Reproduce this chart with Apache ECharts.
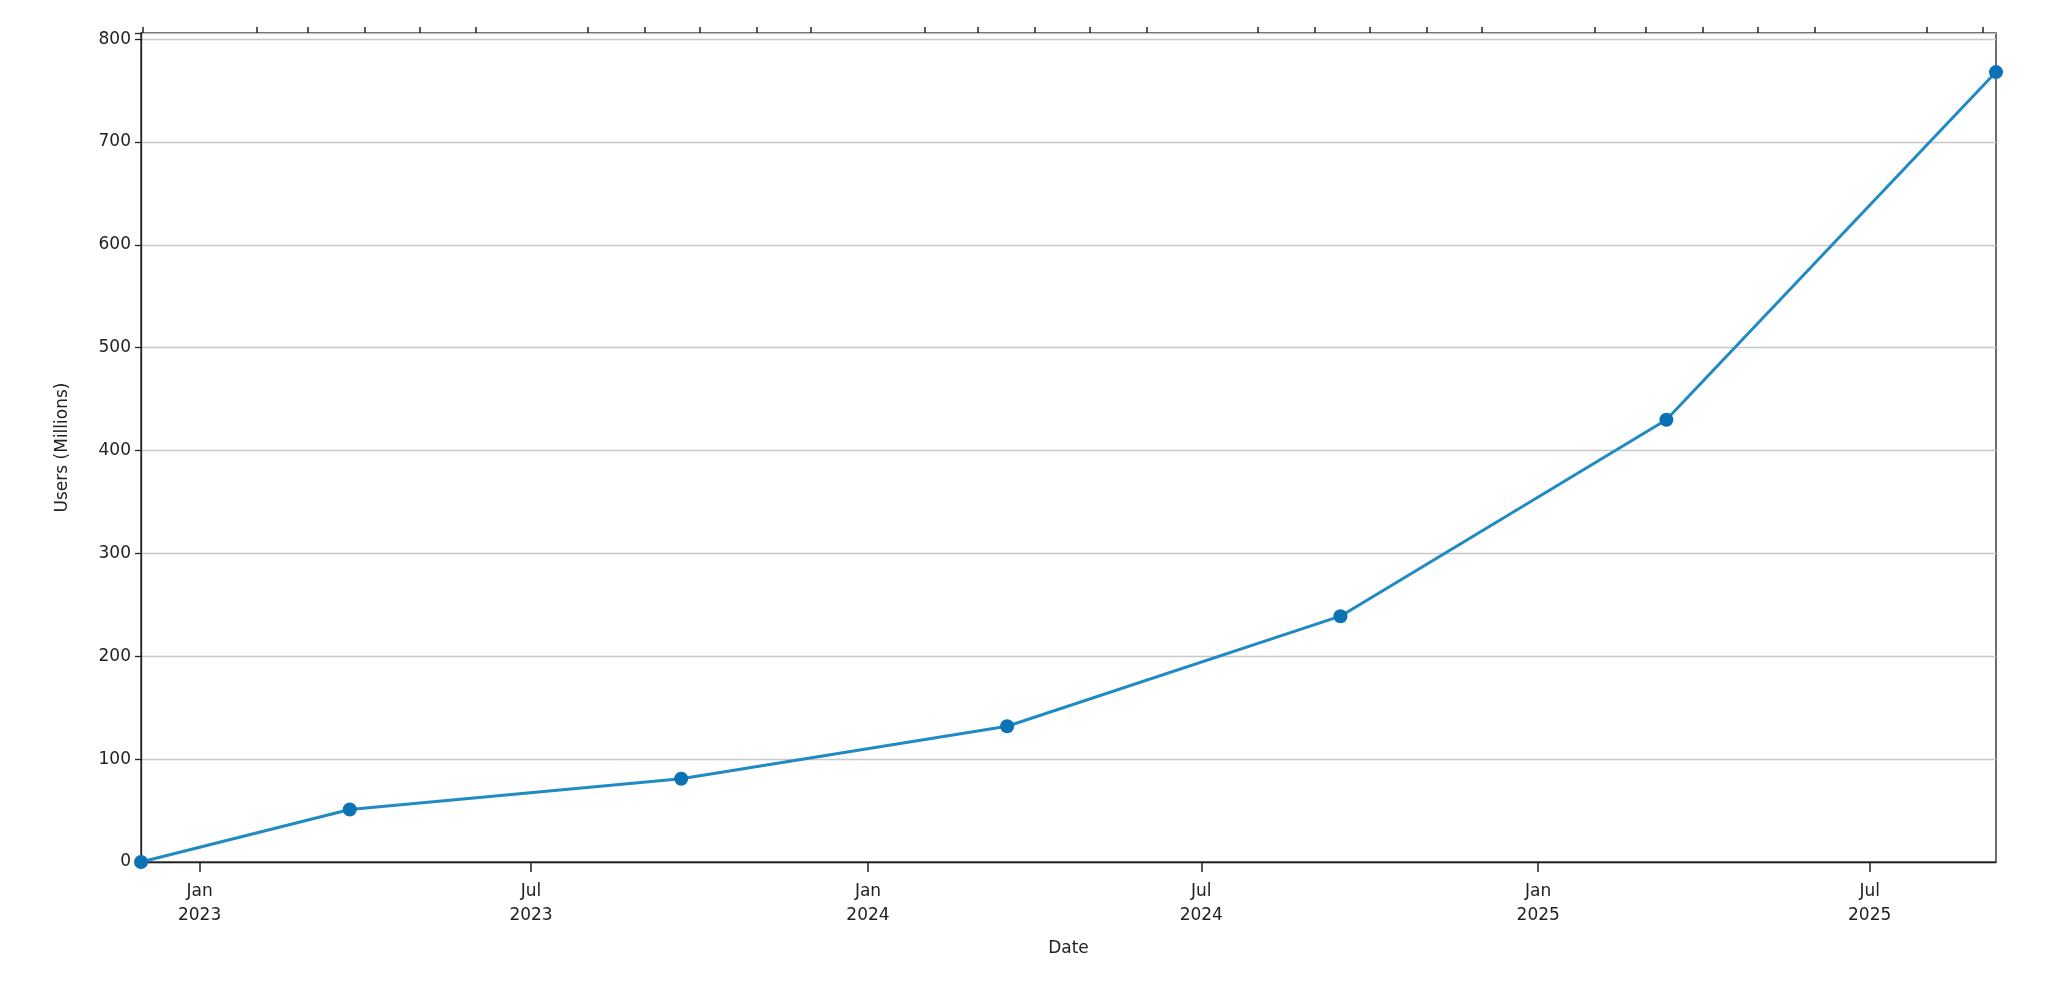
<!DOCTYPE html>
<html><head><meta charset="utf-8">
<script src="https://cdn.jsdelivr.net/npm/echarts@6/dist/echarts.min.js"></script>
<style>html,body{margin:0;padding:0;background:#fff}#c{width:2048px;height:993px}</style>
</head><body><div id="c"></div>
<script>
const dates = ['2022-11-30','2023-03-24','2023-09-21','2024-03-17','2024-09-15','2025-03-12','2025-09-08'];
const users = [0, 51, 81, 132, 239, 430, 768];
const majorTicks = ['2023-01-01','2023-07-01','2024-01-01','2024-07-01','2025-01-01','2025-07-01'];
const minorTicks = ['2022-12-01','2023-02-01','2023-03-01','2023-04-01','2023-05-01','2023-06-01','2023-08-01','2023-09-01','2023-10-01','2023-11-01','2023-12-01','2024-02-01','2024-03-01','2024-04-01','2024-05-01','2024-06-01','2024-08-01','2024-09-01','2024-10-01','2024-11-01','2024-12-01','2025-02-01','2025-03-01','2025-04-01','2025-05-01','2025-06-01','2025-08-01','2025-09-01'];
const months = ['Jan','Feb','Mar','Apr','May','Jun','Jul','Aug','Sep','Oct','Nov','Dec'];
const t = s => new Date(s + 'T00:00:00Z').getTime();
const xmin = t(dates[0]), xmax = t(dates[dates.length-1]);
const font = 'DejaVu Sans';
const chart = echarts.init(document.getElementById('c'));
const common = {type:'value', min:xmin, max:xmax, splitLine:{show:false}};
chart.setOption({
  animation:false,
  grid:{left:141,right:52,top:33,bottom:131,show:true,borderColor:'#222',borderWidth:1.3},
  xAxis:[
    Object.assign({}, common, {
      name:'Date', nameLocation:'middle', nameGap:78,
      nameTextStyle:{fontFamily:font,fontSize:17,color:'#222'},
      axisLine:{show:true,lineStyle:{color:'#222',width:1.3}},
      axisTick:{show:true,length:10,lineStyle:{color:'#222',width:1.5},customValues:majorTicks.map(t)},
      axisLabel:{show:true,customValues:majorTicks.map(t),margin:18,lineHeight:24,
        fontFamily:font,fontSize:17,color:'#222',
        formatter:v=>{const d=new Date(v);return months[d.getUTCMonth()]+'\n'+d.getUTCFullYear();}}
    }),
    Object.assign({}, common, {
      axisLine:{show:false},
      axisTick:{show:true,length:6,lineStyle:{color:'#222',width:1.5},customValues:minorTicks.map(t)},
      axisLabel:{show:false}
    })
  ],
  yAxis:{type:'value',min:0,max:806,interval:100,
    name:'Users (Millions)',nameLocation:'middle',nameGap:70,
    nameTextStyle:{fontFamily:font,fontSize:17,color:'#222'},
    axisLine:{show:true,lineStyle:{color:'#222',width:1.3}},
    axisTick:{show:true,length:6,lineStyle:{color:'#222',width:1.3}},
    axisLabel:{fontFamily:font,fontSize:17,color:'#222',margin:10,
      formatter:v=>(v%100===0?String(v):'')},
    splitLine:{show:true,lineStyle:{color:'#c8c8c8',width:1.3}}
  },
  series:[{type:'line',data:dates.map((d,i)=>[t(d),users[i]]),
    symbol:'circle',symbolSize:14,clip:false,
    lineStyle:{color:'#1f8ac4',width:3},
    itemStyle:{color:'#0a72b5'}}]
});
</script></body></html>
